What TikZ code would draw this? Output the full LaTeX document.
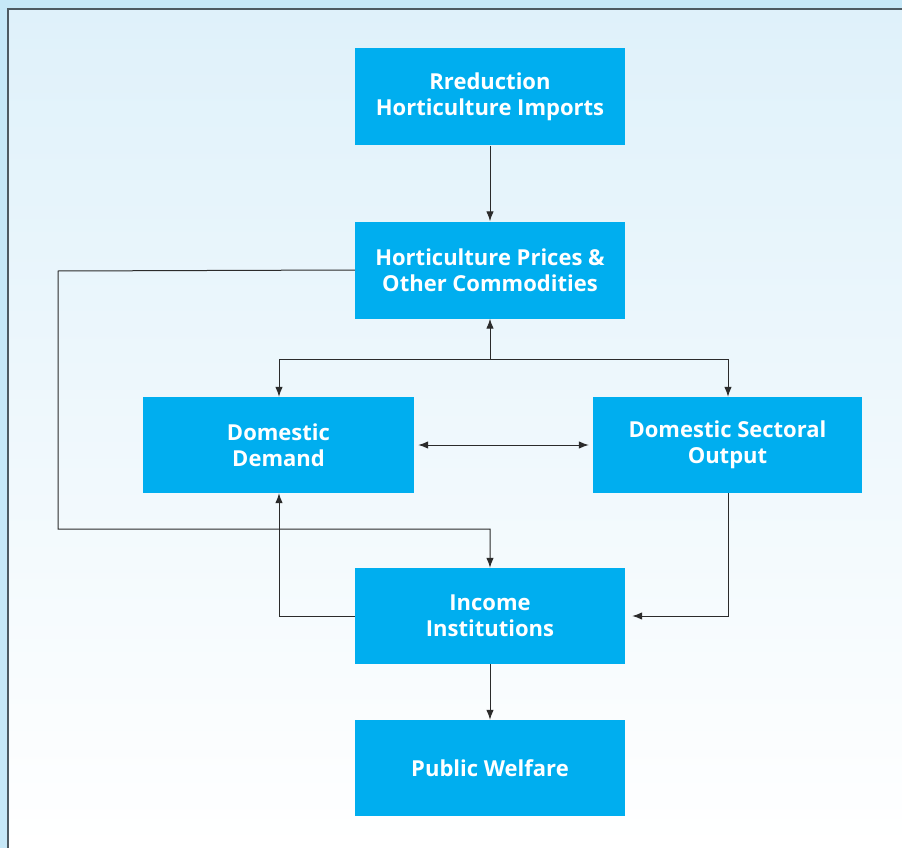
\documentclass[tikz,border=0pt]{standalone}
\usepackage{fontspec}
\setmainfont{Open Sans}
\usetikzlibrary{arrows.meta}
\definecolor{boxblue}{HTML}{00AEEF}
\definecolor{outerbg}{HTML}{C6E8F8}
\definecolor{innertop}{HTML}{DFF1FA}
\definecolor{framegray}{HTML}{4D5A62}
\definecolor{linegray}{HTML}{2B2B2B}
\begin{document}
\begin{tikzpicture}[x=1pt,y=-1pt,
  blk/.style={fill=boxblue, minimum width=270pt, minimum height=97pt, inner sep=0pt,
    text=white, font=\bfseries\fontsize{22}{26}\selectfont, align=center},
  conn/.style={draw=linegray, line width=1pt, -{Latex[length=10pt,width=7.5pt]}},
  plain/.style={draw=linegray, line width=1pt}]
\useasboundingbox (0,0) rectangle (902,848);
\fill[outerbg] (0,0) rectangle (902,848);
\shade[top color=innertop, bottom color=white] (8,9) rectangle (902,848);
\draw[framegray, line width=2.5pt] (8,848) -- (8,9) -- (902,9);

\node[blk] (imp) at (490,97) {Rreduction\\Horticulture Imports};
\node[blk] (price) at (490,270) {Horticulture Prices \&\\Other Commodities};
\node[blk, minimum width=271pt, minimum height=96pt] (dem) at (278.5,445) {Domestic\\Demand};
\node[blk, minimum width=269pt, minimum height=96pt] (out) at (727.5,445) {Domestic Sectoral\\Output};
\node[blk, minimum height=96pt] (inc) at (490,616) {Income\\Institutions};
\node[blk, minimum height=96pt] (wel) at (490,768) {Public Welfare};

\coordinate (j) at (490,359);
\coordinate (jl) at (279,359);
\coordinate (jr) at (728,359);
\coordinate (l1) at (58,271);
\coordinate (l2) at (58,529);

\draw[conn] (imp.south) -- (price.north);
\draw[plain] (jl) -- (jr);
\draw[conn] (j) -- (price.south);
\draw[conn] (jl) -- (jl |- dem.north);
\draw[conn] (jr) -- (jr |- out.north);
\draw[plain, {Latex[length=10pt,width=7.5pt]}-{Latex[length=10pt,width=7.5pt]}, shorten <=4pt, shorten >=4pt] (dem.east) -- (out.west);
\draw[conn] (price.west) -- (l1) -- (l2) -- (l2 -| inc.north) -- (inc.north);
\draw[conn] (inc.west) -| (jl |- dem.south);
\draw[conn, shorten >=7pt] (jr |- out.south) |- (inc.east);
\draw[conn] (inc.south) -- (wel.north);
\end{tikzpicture}
\end{document}
